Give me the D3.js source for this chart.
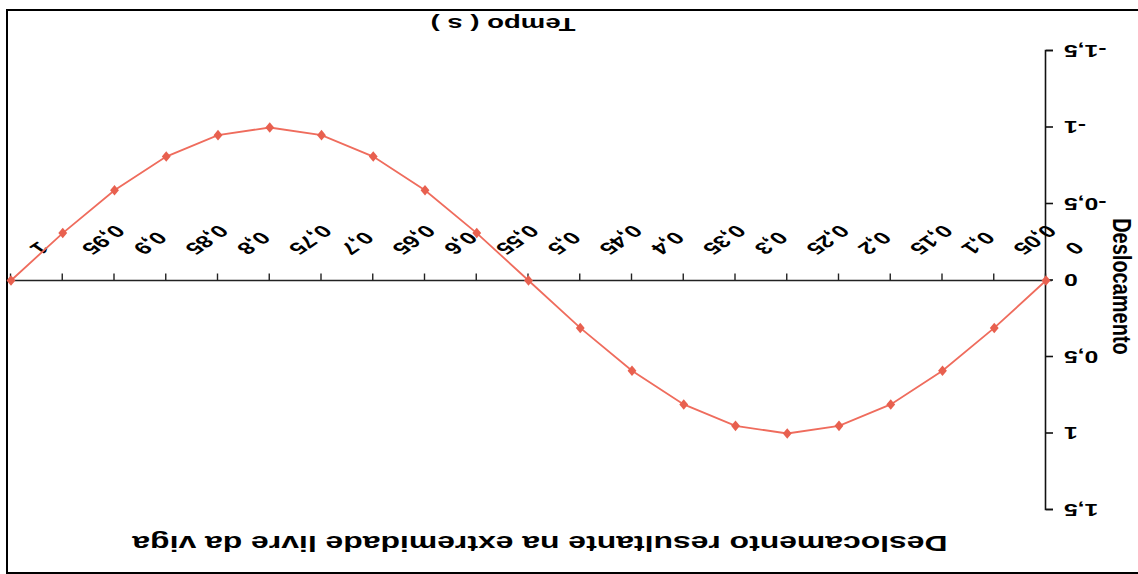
<!DOCTYPE html>
<html>
<head>
<meta charset="utf-8">
<script src="https://cdn.jsdelivr.net/npm/d3@7"></script>
<style>
  html, body { margin: 0; padding: 0; background: #fff; }
  svg { display: block; }
  text { font-family: Arial, "Liberation Sans", sans-serif; font-weight: bold; fill: #000; }
</style>
</head>
<body>
<svg id="chart" width="1138" height="574"></svg>
<script>
// Tempo (s) categories and the free-end displacement at each instant
const tempo = ["0", "0,05", "0,1", "0,15", "0,2", "0,25", "0,3", "0,35", "0,4", "0,45", "0,5",
               "0,55", "0,6", "0,65", "0,7", "0,75", "0,8", "0,85", "0,9", "0,95", "1"];
const deslocamento = [0, 0.31, 0.59, 0.81, 0.95, 1.0, 0.95, 0.81, 0.59, 0.31, 0,
                      -0.31, -0.59, -0.81, -0.95, -1.0, -0.95, -0.81, -0.59, -0.31, 0];
const yTicks = [-1.5, -1, -0.5, 0, 0.5, 1, 1.5];

const title = "Deslocamento resultante na extremidade livre da viga";
const xTitle = "Tempo ( s )";
const yTitle = "Deslocamento";

const W = 1138, H = 574;
const SX = 1.45;               // the sheet's lettering is drawn wide
const FONT = "Arial, 'Liberation Sans', sans-serif";
const svg = d3.select("#chart");

// The whole sheet is printed upside down: draw it normally, then turn it 180°.
const sheet = svg.append("g").attr("transform", `rotate(180, ${W / 2}, ${H / 2})`);

// chart frame
sheet.append("rect")
  .attr("x", -4).attr("y", 1).attr("width", 1135).attr("height", 563)
  .attr("fill", "#fff").attr("stroke", "#000").attr("stroke-width", 2);

const x = d3.scalePoint().domain(tempo).range([92, 1127]);
const y = d3.scaleLinear().domain([-1.5, 1.5]).range([523, 64]);

const fmt = d => String(d).replace(".", ",");

// value axis
const yAxis = sheet.append("g").attr("transform", `translate(${x(tempo[0])},0)`)
  .call(d3.axisLeft(y).tickValues(yTicks).tickFormat(fmt).tickSize(7).tickPadding(9));
yAxis.select(".domain").attr("stroke", "#111").attr("stroke-width", 1.6);
yAxis.selectAll(".tick line").attr("stroke", "#111").attr("stroke-width", 1.6);
yAxis.selectAll(".tick text")
  .style("font-size", "17px").style("font-weight", "bold").style("font-family", FONT)
  .attr("fill", "#000").attr("x", 0).attr("dy", "0.35em")
  .attr("transform", `translate(-18,0) scale(${SX},1)`);

// category axis across the zero line
const xAxis = sheet.append("g").attr("transform", `translate(0,${y(0)})`)
  .call(d3.axisBottom(x).tickSize(7).tickSizeOuter(0).tickPadding(0));
xAxis.select(".domain").attr("stroke", "#222").attr("stroke-width", 1.4)
  .attr("d", `M${x(tempo[0]) - 6},0H${x(tempo[tempo.length - 1])}`);
xAxis.selectAll(".tick line").attr("stroke", "#222").attr("stroke-width", 1.4);
xAxis.selectAll(".tick text")
  .style("font-size", "17px").style("font-weight", "bold").style("font-family", FONT)
  .attr("fill", "#000")
  .attr("text-anchor", "end")
  .attr("y", 0).attr("dy", 0)
  .attr("transform", `translate(-18,33) scale(${SX},1) rotate(-45)`);

// displacement curve
const line = d3.line().x((d, i) => x(tempo[i])).y(d => y(d));
sheet.append("path").datum(deslocamento)
  .attr("d", line).attr("fill", "none")
  .attr("stroke", "#ef6c5d").attr("stroke-width", 1.8);

sheet.append("g").selectAll("path").data(deslocamento).join("path")
  .attr("transform", (d, i) => `translate(${x(tempo[i])},${y(d)}) scale(1.3,0.9)`)
  .attr("d", d3.symbol(d3.symbolDiamond, 40))
  .attr("fill", "#e8604f");

// titles
sheet.append("text")
  .attr("transform", `translate(598,38) scale(${SX},1)`)
  .attr("text-anchor", "middle").style("font-size", "22px").text(title);
sheet.append("text")
  .attr("transform", `translate(635,556) scale(${SX},1)`)
  .attr("text-anchor", "middle").style("font-size", "19px").text(xTitle);
sheet.append("text")
  .attr("transform", `translate(25,${y(0) - 6}) scale(1.25,1) rotate(-90)`)
  .attr("text-anchor", "middle").style("font-size", "20px").text(yTitle);
</script>
</body>
</html>
